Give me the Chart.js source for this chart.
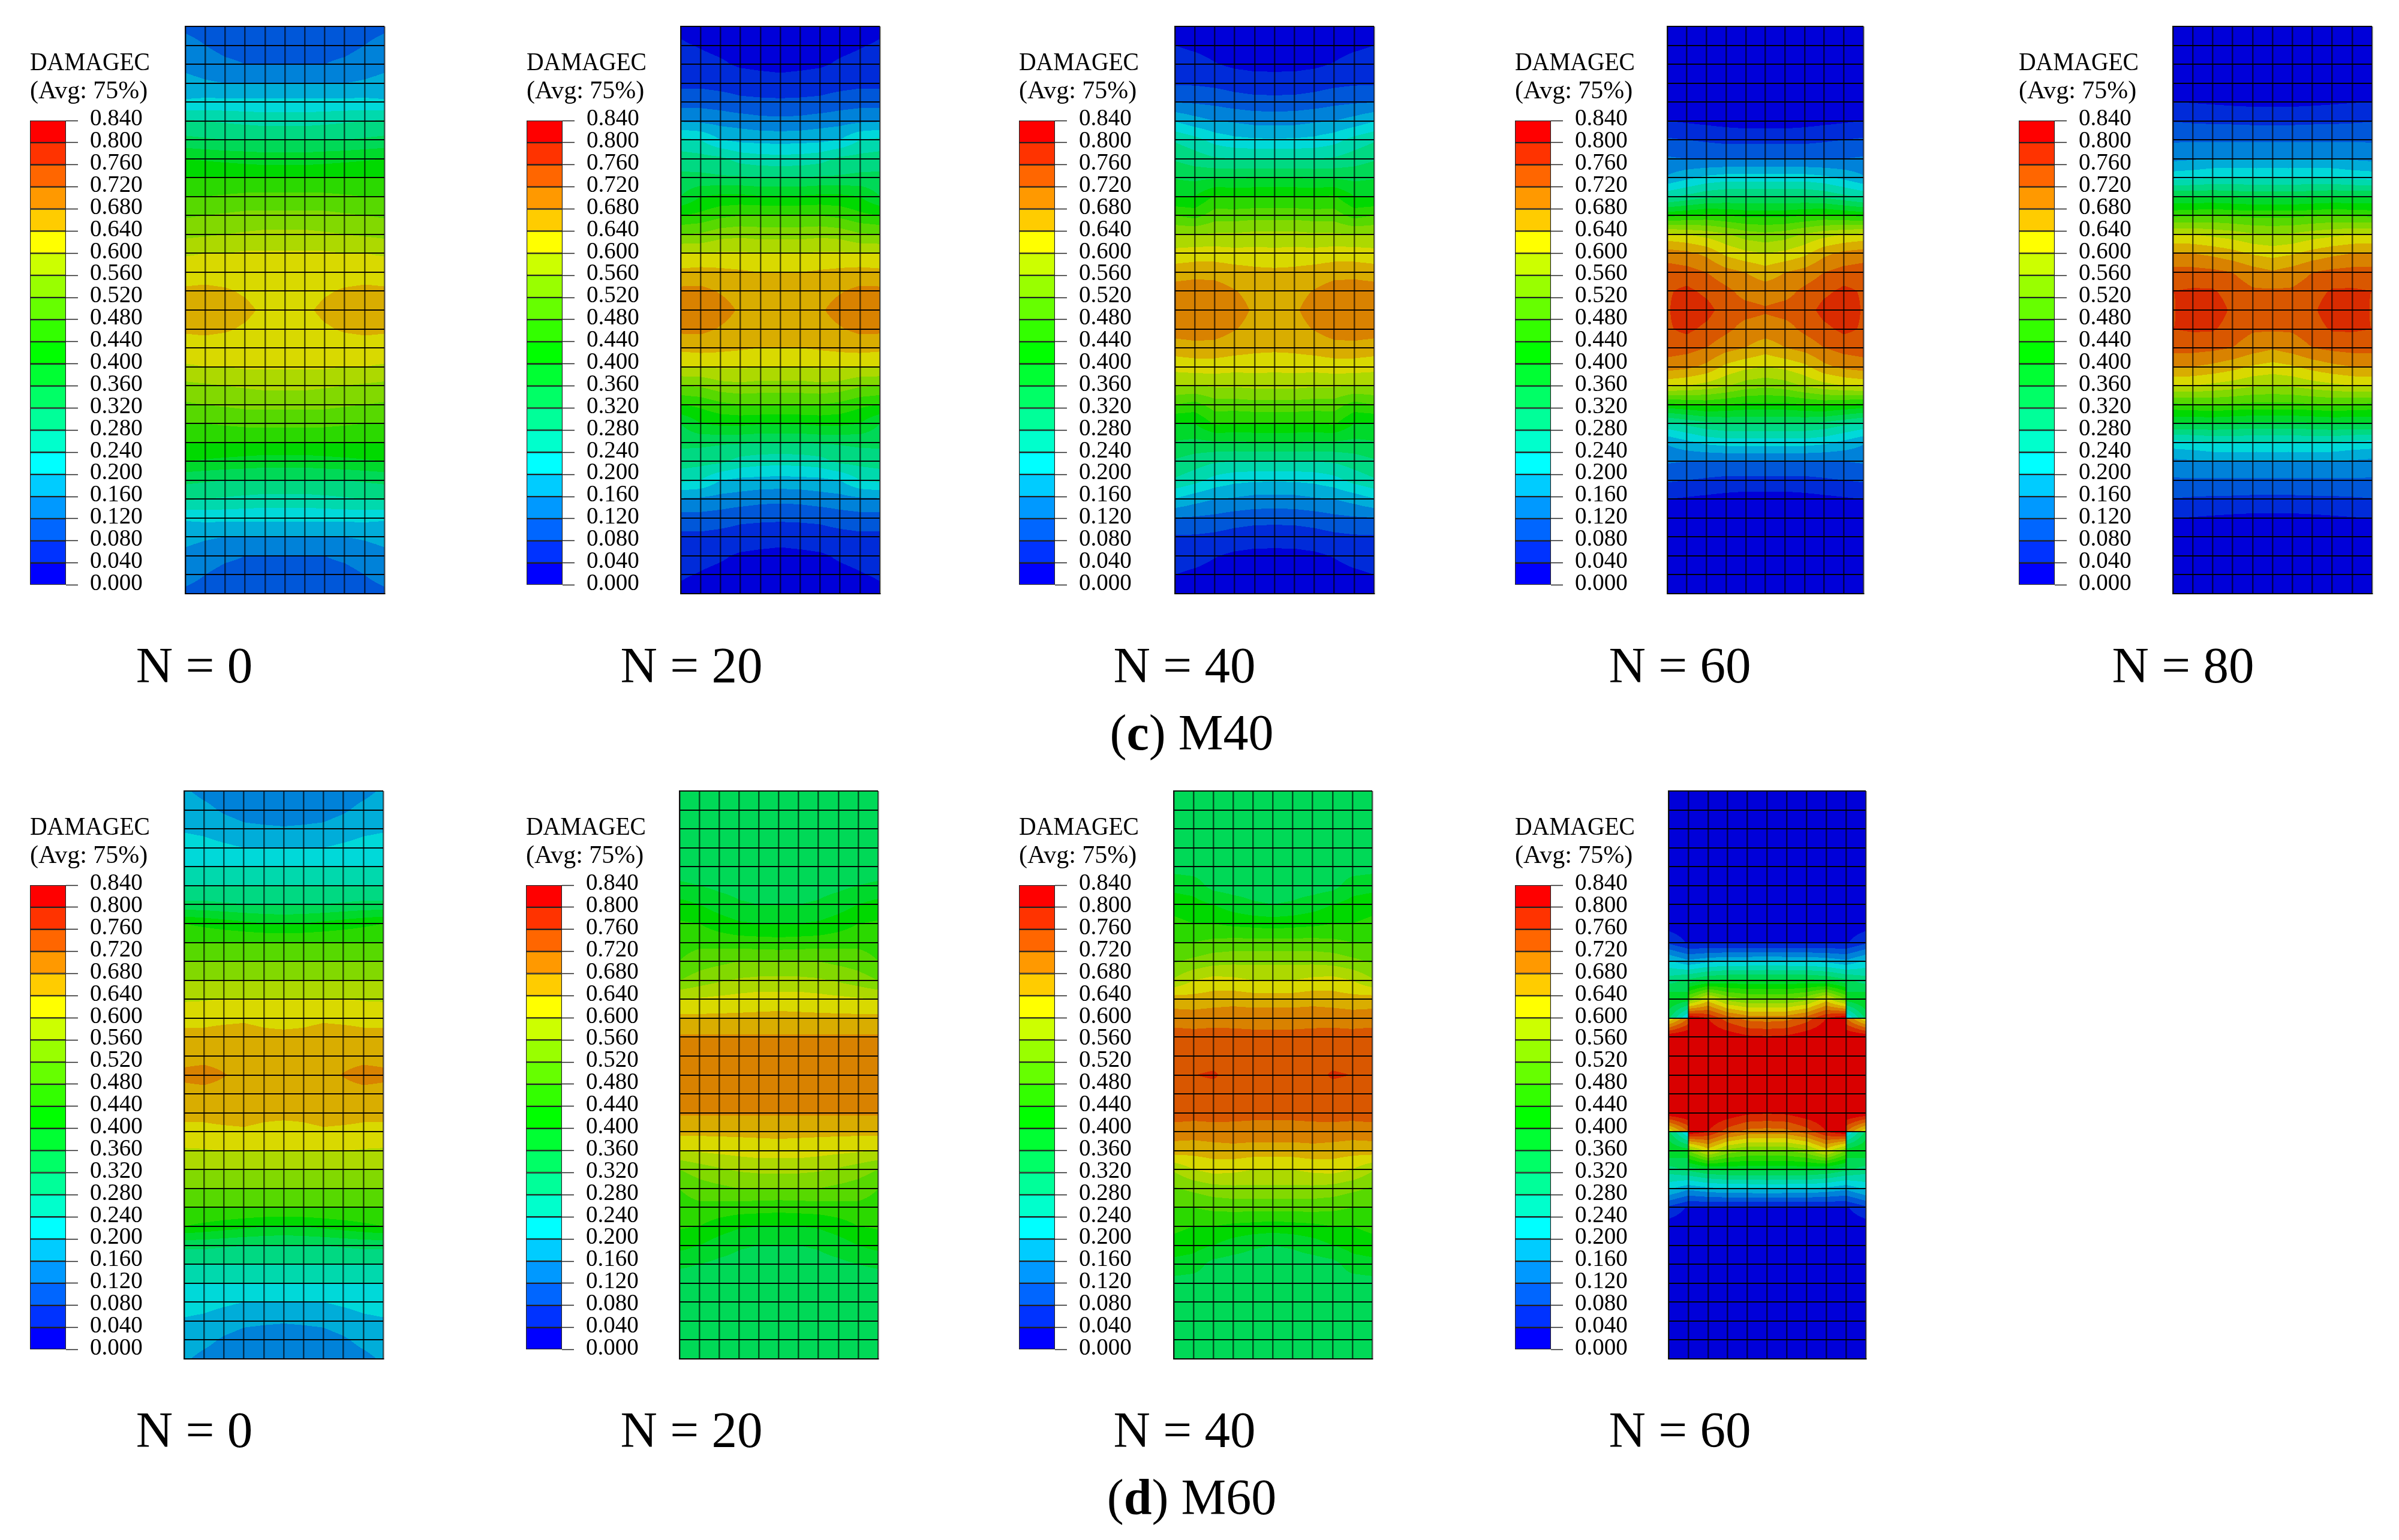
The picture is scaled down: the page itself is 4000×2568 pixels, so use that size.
<!DOCTYPE html>
<html>
<head>
<meta charset="utf-8">
<title>DAMAGEC contours</title>
<script src="https://cdn.jsdelivr.net/npm/chart.js@4"></script>
<style>
html,body{margin:0;padding:0;background:#fff;width:4000px;height:2568px;overflow:hidden}
canvas{position:absolute;display:block}
.t{position:absolute;font-family:"Liberation Serif",serif;color:#000;line-height:100px;height:100px;white-space:nowrap;text-align:center;transform:translateX(-50%)}
</style>
</head>
<body>
<script>
const levels=[0,.04,.08,.12,.16,.2,.24,.28,.32,.36,.4,.44,.48,.52,.56,.6,.64,.68,.72,.76,.8,.84];
const bandColors=['#0000ff','#0033ff','#0066ff','#0099ff','#00ccff','#00ffff','#00ffcc','#00ff99','#00ff66','#00ff33','#00ff00','#33ff00','#66ff00','#99ff00','#ccff00','#ffff00','#ffcc00','#ff9900','#ff6600','#ff3300','#ff0000'];
const fieldShade=.85;
const legendTitle=['DAMAGEC','(Avg: 75%)'];

// Nodal readings: one quarter of each 10 x 30 mesh (rows top to mid-height, columns edge to centre)
const m40_N0=[
[.11,.10,.095,.09,.088,.085],[.137,.12,.107,.105,.103,.102],[.15,.14,.128,.12,.12,.12],[.172,.165,.16,.16,.16,.16],
[.205,.21,.21,.21,.21,.21],[.285,.28,.275,.27,.265,.265],[.33,.325,.32,.32,.32,.32],[.40,.395,.39,.385,.38,.38],
[.44,.44,.44,.44,.44,.44],[.48,.48,.485,.49,.49,.49],[.515,.52,.525,.53,.53,.53],[.55,.555,.56,.565,.57,.57],
[.595,.60,.60,.605,.605,.605],[.625,.625,.62,.615,.61,.61],[.645,.648,.645,.635,.62,.615],[.655,.66,.655,.65,.632,.62]];
const m40_N20=[
[.03,.02,.015,.01,.01,.01],[.045,.037,.03,.025,.02,.02],[.06,.052,.045,.035,.032,.03],[.07,.07,.065,.06,.055,.052],
[.105,.105,.10,.09,.088,.087],[.155,.152,.145,.14,.132,.13],[.25,.24,.20,.19,.187,.185],[.30,.295,.29,.265,.257,.255],
[.33,.33,.325,.325,.32,.32],[.36,.40,.41,.41,.405,.405],[.44,.45,.47,.48,.48,.48],[.52,.525,.545,.55,.545,.545],
[.60,.60,.605,.605,.60,.60],[.65,.655,.65,.645,.64,.64],[.69,.69,.677,.665,.66,.655],[.705,.70,.695,.675,.667,.665]];
const m40_N40=[
[.02,.015,.01,.01,.008,.008],[.04,.032,.025,.02,.02,.018],[.06,.055,.042,.033,.03,.03],[.075,.075,.07,.062,.056,.055],
[.118,.115,.11,.10,.095,.094],[.197,.175,.16,.155,.147,.146],[.275,.255,.225,.21,.205,.205],[.315,.30,.285,.28,.28,.28],
[.357,.35,.355,.355,.358,.36],[.397,.40,.445,.44,.44,.44],[.48,.465,.50,.50,.505,.505],[.56,.56,.565,.565,.57,.57],
[.615,.62,.62,.615,.615,.613],[.66,.665,.665,.657,.65,.648],[.70,.705,.70,.682,.668,.665],[.715,.715,.715,.695,.675,.672]];
const m40_N60=[
[.01,.01,.01,.01,.01,.01],[.01,.01,.01,.01,.01,.01],[.01,.01,.01,.01,.01,.01],[.01,.01,.01,.01,.01,.01],
[.01,.01,.01,.01,.01,.01],[.04,.035,.03,.025,.02,.02],[.085,.08,.075,.07,.07,.07],[.125,.12,.115,.115,.115,.115],
[.165,.19,.21,.22,.22,.22],[.27,.29,.31,.32,.32,.32],[.43,.44,.45,.44,.43,.43],[.61,.60,.585,.565,.54,.53],
[.70,.69,.67,.63,.61,.60],[.74,.735,.72,.695,.68,.66],[.755,.77,.75,.73,.705,.70],[.755,.79,.775,.74,.735,.725]];
const m40_N80=[
[.01,.01,.01,.01,.01,.01],[.01,.01,.01,.01,.01,.01],[.01,.01,.01,.01,.01,.01],[.01,.01,.01,.01,.01,.01],
[.04,.038,.035,.032,.03,.03],[.078,.075,.073,.072,.07,.07],[.115,.115,.115,.115,.115,.115],[.15,.155,.16,.16,.16,.16],
[.225,.23,.24,.24,.24,.24],[.36,.36,.36,.355,.35,.35],[.47,.475,.48,.475,.47,.47],[.60,.60,.59,.58,.565,.56],
[.685,.68,.67,.655,.635,.625],[.735,.735,.73,.72,.70,.685],[.76,.765,.765,.74,.725,.725],[.755,.795,.79,.75,.745,.74]];
const m60_N0=[
[.165,.15,.14,.13,.125,.12],[.18,.17,.155,.145,.142,.14],[.195,.19,.178,.168,.165,.163],[.22,.215,.208,.20,.20,.20],
[.241,.241,.241,.241,.241,.241],[.281,.281,.281,.281,.281,.281],[.33,.33,.325,.321,.321,.321],[.44,.43,.42,.41,.40,.395],
[.481,.481,.481,.481,.481,.481],[.521,.521,.521,.521,.521,.521],[.561,.561,.561,.561,.561,.561],[.595,.597,.601,.601,.601,.601],
[.63,.63,.632,.635,.63,.625],[.65,.65,.655,.655,.65,.65],[.665,.667,.665,.665,.66,.66],[.69,.695,.682,.67,.665,.665]];
const m60_N20=[
[.34,.34,.34,.34,.34,.34],[.34,.34,.34,.34,.34,.34],[.34,.34,.34,.34,.34,.34],[.34,.34,.34,.34,.34,.34],
[.345,.345,.34,.34,.34,.34],[.365,.36,.35,.345,.34,.34],[.415,.40,.38,.365,.36,.36],[.445,.44,.42,.405,.40,.40],
[.465,.47,.465,.46,.458,.455],[.48,.50,.51,.52,.52,.52],[.52,.54,.555,.565,.57,.57],[.60,.605,.61,.615,.62,.62],
[.65,.65,.65,.65,.65,.652],[.685,.685,.685,.685,.685,.685],[.70,.70,.70,.70,.70,.70],[.705,.705,.705,.705,.705,.705]];
const m60_N40=[
[.34,.34,.34,.34,.34,.34],[.34,.34,.34,.34,.34,.34],[.34,.34,.34,.34,.34,.34],[.34,.34,.34,.34,.34,.34],
[.345,.34,.34,.34,.34,.34],[.385,.38,.345,.34,.34,.34],[.425,.415,.40,.38,.365,.36],[.45,.44,.44,.43,.425,.42],
[.48,.48,.49,.495,.495,.495],[.515,.53,.545,.55,.55,.55],[.565,.60,.615,.61,.60,.60],[.66,.655,.66,.665,.66,.66],
[.70,.70,.705,.705,.705,.705],[.74,.735,.735,.733,.73,.73],[.75,.75,.75,.75,.745,.745],[.755,.7595,.763,.752,.75,.75]];
const m60_N60=[
[.01,.01,.01,.01,.01,.01],[.01,.01,.01,.01,.01,.01],[.01,.01,.01,.01,.01,.01],[.01,.01,.01,.01,.01,.01],
[.01,.01,.01,.01,.01,.01],[.01,.01,.01,.01,.01,.01],[.01,.01,.01,.01,.01,.01],[.02,.015,.015,.01,.01,.01],
[.07,.035,.032,.03,.03,.03],[.21,.17,.19,.20,.20,.205],[.30,.33,.36,.37,.37,.37],[.40,.52,.62,.545,.52,.52],
[.33,.84,.80,.74,.705,.70],[.84,.84,.84,.83,.81,.805],[.84,.84,.84,.84,.84,.84],[.84,.84,.84,.84,.84,.84]];
// Elements whose corners are not averaged (row, column, [top-left, top-right, bottom-left, bottom-right])
const m60_N60_split=[[10,0,[.30,.33,.40,.38]],[11,0,[.40,.38,.33,.19]],[12,0,[.60,.72,.84,.85]]];

const captionLabels=[['(','c',') M40'],['(','d',') M60']];
const cycleLabels40=['N = 0','N = 20','N = 40','N = 60','N = 80'];
const cycleLabels60=['N = 0','N = 20','N = 40','N = 60'];
const fields40=[m40_N0,m40_N20,m40_N40,m40_N60,m40_N80];
const fields60=[m60_N0,m60_N20,m60_N40,m60_N60];

const rgb=bandColors.map(h=>[1,3,5].map(i=>Math.round(parseInt(h.substr(i,2),16)*fieldShade)));
const COLS=10,ROWS=30;

function expand(q){
  const out=[];
  for(let r=0;r<=ROWS;r++)for(let c=0;c<=COLS;c++)
    out.push({x:c,y:r,v:q[Math.min(r,ROWS-r)][Math.min(c,COLS-c)]});
  return out;
}
const contourPlugin={
  id:'contour',
  beforeDatasetsDraw(chart){
    const a=chart.chartArea,xs=chart.scales.x,ys=chart.scales.y,ds=chart.data.datasets[0];
    const nodes=ds.data,split=ds.split||[];
    const L=Math.round(a.left),T=Math.round(a.top),W=Math.round(a.right)-L,H=Math.round(a.bottom)-T;
    const img=chart.ctx.createImageData(W,H),d=img.data;
    const xv=[];for(let i=0;i<W;i++)xv.push(xs.getValueForPixel(L+i+.5));
    for(let py=0;py<H;py++){
      let y=ys.getValueForPixel(T+py+.5);y=Math.min(y,ROWS-y);
      let j=Math.min(Math.max(Math.floor(y),0),14),tv=y-j;
      for(let px=0;px<W;px++){
        let x=Math.min(xv[px],COLS-xv[px]);
        let i=Math.min(Math.max(Math.floor(x),0),4),tu=x-i;
        let c=null;
        for(const s of split)if(s[0]===j&&s[1]===i){c=s[2];break;}
        if(!c)c=[nodes[j*11+i].v,nodes[j*11+i+1].v,nodes[(j+1)*11+i].v,nodes[(j+1)*11+i+1].v];
        const val=(c[0]*(1-tu)+c[1]*tu)*(1-tv)+(c[2]*(1-tu)+c[3]*tu)*tv;
        const b=Math.max(0,Math.min(bandColors.length-1,Math.floor(val/.04)));
        const o=(py*W+px)*4,k=rgb[b];
        d[o]=k[0];d[o+1]=k[1];d[o+2]=k[2];d[o+3]=255;
      }
    }
    chart.ctx.putImageData(img,L,T);
  }
};
function mkCanvas(l,t,w,h){
  const c=document.createElement('canvas');
  c.width=w;c.height=h;c.style.left=l+'px';c.style.top=t+'px';c.style.width=w+'px';c.style.height=h+'px';
  document.body.appendChild(c);return c;
}
function panel(x0,x1,y0,y1,q,split){
  const p=6,w=x1-x0,h=y1-y0;
  new Chart(mkCanvas(x0-p,y0-p,w+2*p,h+2*p),{
    type:'scatter',
    data:{datasets:[{label:'DAMAGEC',data:expand(q),split:split,pointRadius:0,showLine:false}]},
    options:{
      responsive:false,animation:false,devicePixelRatio:1,
      layout:{padding:p},
      plugins:{legend:{display:false},tooltip:{enabled:false},title:{display:false}},
      scales:{
        x:{type:'linear',min:0,max:COLS,offset:false,
           ticks:{display:false,stepSize:1,autoSkip:false,maxTicksLimit:40},
           grid:{z:1,color:'rgba(0,0,0,.62)',lineWidth:2.5,drawTicks:false},
           border:{z:1,color:'#111',width:2}},
        y:{type:'linear',reverse:true,min:0,max:ROWS,offset:false,
           ticks:{display:false,stepSize:1,autoSkip:false,maxTicksLimit:40},
           grid:{z:1,color:'rgba(0,0,0,.95)',lineWidth:2,drawTicks:false},
           border:{z:1,color:'#111',width:2}}
      }
    },
    plugins:[contourPlugin]
  });
}
function colorbar(l,barTop){
  const padL=5,barW=60,axisW=140,canvasTop=barTop-125,canvasH=946;
  const bands=bandColors.map((col,i)=>({label:levels[i].toFixed(3),data:[[levels[i],levels[i+1]]],backgroundColor:col,
    borderColor:'#222',borderWidth:1.5,borderSkipped:false,grouped:false,barPercentage:1,categoryPercentage:1}));
  new Chart(mkCanvas(l-padL,canvasTop,padL+barW+axisW,canvasH),{
    type:'bar',
    data:{labels:['DAMAGEC'],datasets:bands},
    options:{
      responsive:false,animation:false,devicePixelRatio:1,
      layout:{padding:{left:padL,right:0,top:0,bottom:0}},
      plugins:{legend:{display:false},tooltip:{enabled:false},
        title:{display:true,text:legendTitle,align:'start',color:'#000',
          font:{family:'"Liberation Serif",serif',size:42,weight:'normal',lineHeight:47/42},
          padding:{top:9.5,bottom:24.5}}},
      scales:{
        x:{display:false,type:'category',offset:true},
        y:{type:'linear',position:'right',min:0,max:.84,
           afterBuildTicks(s){s.ticks=levels.map(value=>({value}));},
           afterFit(s){s.width=axisW;},
           ticks:{autoSkip:false,color:'#000',padding:20,labelOffset:-2,
             font:{family:'"Liberation Serif",serif',size:39},
             callback:v=>Number(v).toFixed(3)},
           grid:{drawOnChartArea:false,drawTicks:true,tickLength:20,tickColor:'#222',tickWidth:1.5},
           border:{display:false}}
      }
    }
  });
}
function label(cx,top,size,html){
  const d=document.createElement('div');d.className='t';
  d.style.left=cx+'px';d.style.top=top+'px';d.style.fontSize=size+'px';d.innerHTML=html;
  document.body.appendChild(d);
}
const panels40=[[309,641],[1135,1467],[1959,2291],[2780,3107],[3623,3955]];
const panels60=[[307,639],[1133,1464],[1957,2288],[2782,3111]];
const bars40=[50,878,1699,2526,3366];
const bars60=[50,877,1699,2526];
const labelX40=[324,1153,1975,2801,3640];
const labelX60=[324,1153,1975,2801];

fields40.forEach((q,i)=>{
  panel(panels40[i][0],panels40[i][1],44,990,q);
  colorbar(bars40[i],198);
  label(labelX40[i],1059,85,cycleLabels40[i]);
});
fields60.forEach((q,i)=>{
  panel(panels60[i][0],panels60[i][1],1319,2266,q,i===3?m60_N60_split:undefined);
  colorbar(bars60[i],1473);
  label(labelX60[i],2334,85,cycleLabels60[i]);
});
label(1987,1172,84,captionLabels[0][0]+'<b>'+captionLabels[0][1]+'</b>'+captionLabels[0][2]);
label(1987,2447,84,captionLabels[1][0]+'<b>'+captionLabels[1][1]+'</b>'+captionLabels[1][2]);
</script>
</body>
</html>
